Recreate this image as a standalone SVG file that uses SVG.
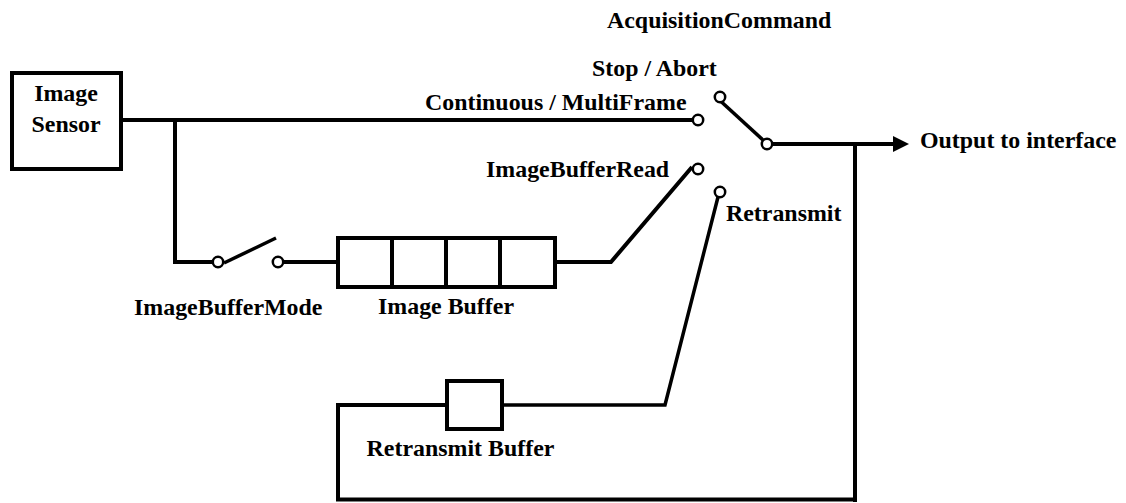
<svg xmlns="http://www.w3.org/2000/svg" width="1126" height="503" viewBox="0 0 1126 503">
<style>
.l{fill:none;stroke:#000;stroke-width:4}
.t{fill:none;stroke:#000;stroke-width:3.5}
.b{fill:#fff;stroke:#000;stroke-width:4}
.c{fill:#fff;stroke:#000;stroke-width:2.5}
text{font-family:"Liberation Serif","Times New Roman",serif;font-weight:bold;font-size:23.9px;fill:#000}
</style>
<rect width="1126" height="503" fill="#fff"/>
<g id="connectors">
<path class="l" d="M122 120H693"/>
<path class="l" d="M175 120V262H217"/>
<path class="t" d="M224 263L276 238"/>
<path class="l" d="M284 262H338"/>
<path class="l" d="M555 262H611L692 167"/>
<path class="t" d="M715 96L764 141"/>
<path class="l" d="M772 144H895"/>
<path d="M893 136L909 144L893 152Z" fill="#000"/>
<path class="l" d="M855 144V502"/>
<path class="l" d="M338 499.500V405H445"/>
<path class="l" d="M336 499.500H855"/>
<path class="t" d="M502 405H665L718 197"/>
</g>
<g id="sensor"><rect class="b" x="12" y="73" width="109" height="96"/><text x="66" y="101" text-anchor="middle">Image</text><text x="66" y="132" text-anchor="middle">Sensor</text></g>
<g id="image-buffer"><rect class="b" x="338" y="238" width="217" height="49"/><path class="l" d="M392 238V287M446 238V287M500 238V287"/><text x="446" y="314" text-anchor="middle">Image Buffer</text></g>
<g id="retransmit-buffer"><rect class="b" x="447" y="381" width="55" height="48"/><text x="460.500" y="456" text-anchor="middle">Retransmit Buffer</text></g>
<g id="contacts">
<circle class="c" cx="698" cy="120" r="5.2"/>
<circle class="c" cx="698" cy="169" r="5.2"/>
<circle class="c" cx="720" cy="192" r="5.2"/>
<circle class="c" cx="720" cy="97" r="5.2"/>
<circle class="c" cx="767" cy="144" r="5.2"/>
<circle class="c" cx="218" cy="262" r="5.2"/>
<circle class="c" cx="278" cy="262" r="5.2"/>
</g>
<g id="labels">
<text x="134" y="315">ImageBufferMode</text>
<text x="607" y="28">AcquisitionCommand</text>
<text x="592" y="76">Stop / Abort</text>
<text x="425" y="110">Continuous / MultiFrame</text>
<text x="486" y="177">ImageBufferRead</text>
<text x="726" y="221">Retransmit</text>
<text x="920" y="148">Output to interface</text>
</g>
</svg>
